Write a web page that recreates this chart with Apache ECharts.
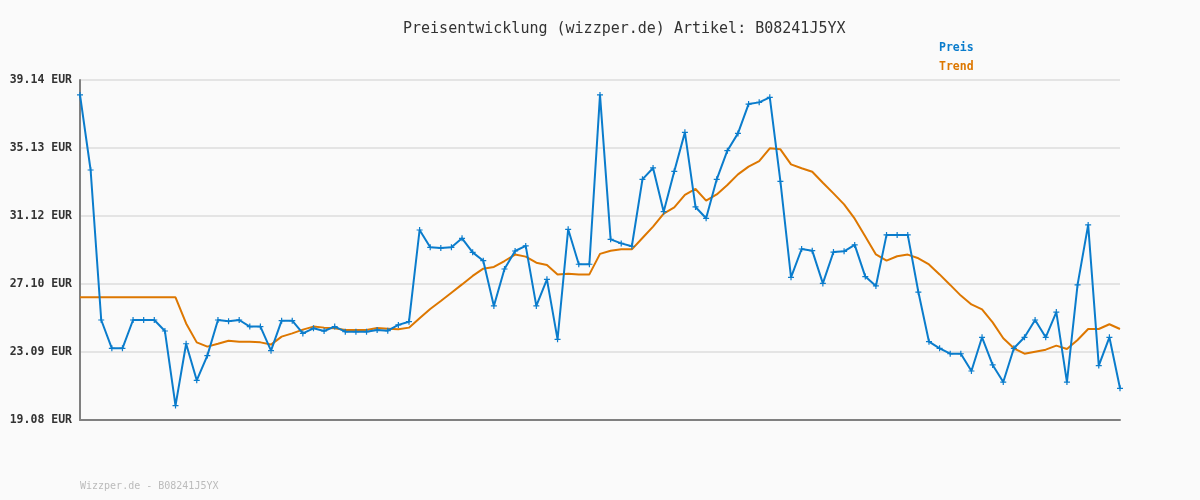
<!DOCTYPE html>
<html>
<head>
<meta charset="utf-8">
<script src="https://cdn.jsdelivr.net/npm/echarts@6/dist/echarts.min.js"></script>
<style>
html,body{margin:0;padding:0;background:#fafafa;}
#chart{width:1200px;height:500px;}
</style>
</head>
<body>
<div id="chart"></div>
<script>
const preis = [
  38.26, 33.83, 24.98, 23.31, 23.31, 24.98, 24.98, 24.98, 24.33, 19.93,
  23.58, 21.42, 22.88, 24.98, 24.90, 24.98, 24.59, 24.59, 23.17, 24.94,
  24.94, 24.19, 24.49, 24.33, 24.59, 24.29, 24.29, 24.29, 24.39, 24.35,
  24.69, 24.88, 30.29, 29.27, 29.23, 29.27, 29.80, 28.97, 28.48, 25.81,
  27.99, 29.05, 29.35, 25.81, 27.38, 23.84, 30.33, 28.27, 28.27, 38.26,
  29.74, 29.50, 29.33, 33.28, 33.95, 31.37, 33.75, 36.05, 31.65, 30.98,
  33.28, 34.97, 35.99, 37.72, 37.82, 38.12, 33.16, 27.50, 29.17, 29.07,
  27.14, 28.99, 29.03, 29.41, 27.54, 26.99, 30.00, 30.00, 30.00, 26.63,
  23.70, 23.31, 22.99, 22.99, 21.97, 23.96, 22.33, 21.32, 23.31, 23.96,
  24.98, 23.96, 25.45, 21.32, 27.05, 30.59, 22.29, 23.96, 20.95
];
const trend = [
  26.32, 26.32, 26.32, 26.32, 26.32, 26.32, 26.32, 26.32, 26.32, 26.32,
  24.78, 23.66, 23.41, 23.58, 23.76, 23.70, 23.70, 23.66, 23.53, 24.00,
  24.19, 24.41, 24.59, 24.53, 24.49, 24.39, 24.39, 24.39, 24.51, 24.47,
  24.43, 24.53, 25.08, 25.63, 26.10, 26.59, 27.08, 27.58, 28.01, 28.11,
  28.46, 28.84, 28.72, 28.36, 28.23, 27.67, 27.71, 27.67, 27.67, 28.88,
  29.07, 29.15, 29.15, 29.82, 30.49, 31.25, 31.62, 32.36, 32.71, 32.02,
  32.39, 32.95, 33.57, 34.03, 34.36, 35.11, 35.05, 34.16, 33.93, 33.73,
  33.08, 32.45, 31.80, 30.96, 29.90, 28.85, 28.48, 28.74, 28.84, 28.62,
  28.26, 27.67, 27.05, 26.42, 25.90, 25.61, 24.84, 23.90, 23.31, 22.99,
  23.11, 23.23, 23.47, 23.27, 23.80, 24.45, 24.45, 24.73, 24.45
];
const yTicks = [19.08, 23.09, 27.10, 31.12, 35.13, 39.14];
const categories = preis.map((_, i) => String(i + 1));
const titleText = 'Preisentwicklung (wizzper.de) Artikel: B08241J5YX';
const footerText = 'Wizzper.de - B08241J5YX';

const mono = 'DejaVu Sans Mono';
const chart = echarts.init(document.getElementById('chart'), null, {renderer: 'canvas'});
chart.setOption({
  backgroundColor: '#fafafa',
  animation: false,
  title: {
    text: titleText,
    left: 398,
    top: 17,
    textStyle: {fontFamily: mono, fontSize: 15, fontWeight: 'normal', color: '#333'}
  },
  legend: {
    orient: 'vertical',
    left: 929,
    top: 36,
    itemWidth: 0,
    itemHeight: 14,
    itemGap: 6,
    icon: 'none',
    textStyle: {fontFamily: mono, fontSize: 11.5, fontWeight: 'bold'},
    data: [
      {name: 'Preis', textStyle: {color: '#0a7ccc'}},
      {name: 'Trend', textStyle: {color: '#dd7700'}}
    ]
  },
  graphic: [{
    type: 'text', left: 80, top: 481,
    style: {text: footerText, font: '10px "DejaVu Sans Mono"', fill: '#bbbbbb'}
  }],
  grid: {left: 80, right: 80, top: 80, bottom: 80, containLabel: false},
  xAxis: {
    type: 'category',
    data: categories,
    boundaryGap: false,
    axisLine: {show: true, lineStyle: {color: '#808080', width: 2}},
    axisTick: {show: false},
    axisLabel: {show: false},
    splitLine: {show: false}
  },
  yAxis: {
    type: 'value',
    min: 19.08,
    max: 39.14,
    axisLine: {show: true, lineStyle: {color: '#808080', width: 2}},
    axisTick: {show: false, customValues: yTicks},
    axisLabel: {
      customValues: yTicks,
      margin: 8,
      fontFamily: mono, fontSize: 11.5, fontWeight: 'bold', color: '#333',
      formatter: v => v.toFixed(2) + ' EUR'
    },
    splitLine: {show: true, lineStyle: {color: '#e4e4e4', width: 2}}
  },
  series: [
    {
      name: 'Trend', type: 'line', data: trend,
      symbol: 'none', z: 2,
      lineStyle: {color: '#dd7700', width: 2},
      itemStyle: {color: '#dd7700'}
    },
    {
      name: 'Preis', type: 'line', data: preis,
      symbol: 'path://M2,0H3V2H5V3H3V5H2V3H0V2H2Z', symbolSize: 6, z: 3,
      lineStyle: {color: '#0a7ccc', width: 2},
      itemStyle: {color: '#0a7ccc'}
    }
  ]
});
</script>
</body>
</html>
